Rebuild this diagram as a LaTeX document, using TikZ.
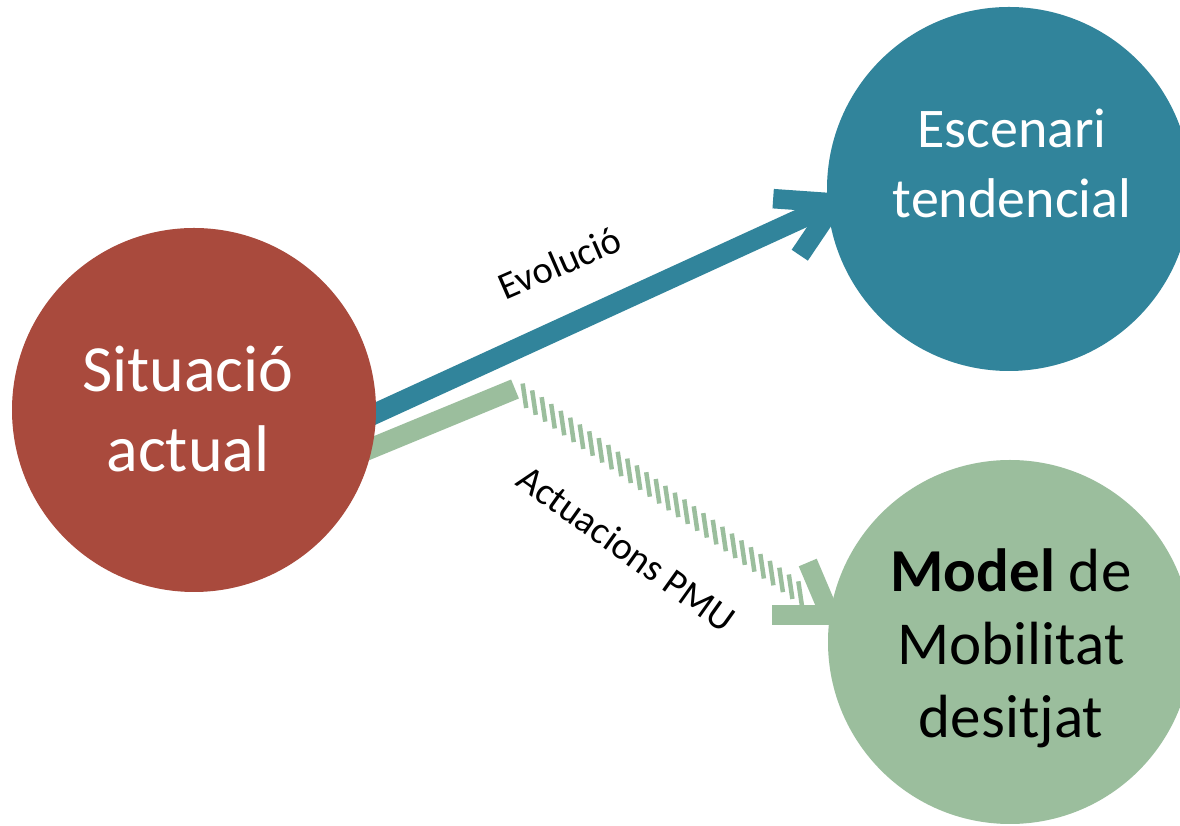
\documentclass[tikz,border=0pt]{standalone}
\usepackage{fontspec}
\setmainfont{Carlito}
\usetikzlibrary{backgrounds,decorations.markings,calc}
\definecolor{redc}{HTML}{A94A3D}
\definecolor{bluec}{HTML}{31849B}
\definecolor{greenc}{HTML}{9BBE9D}
\begin{document}
\begin{tikzpicture}[x=1pt,y=1pt,
  disc/.style={circle, minimum size=364pt, inner sep=0pt, draw=none},
  bigtxt/.style={align=center, inner sep=0pt},
  band/.style={line width=20.5pt, line cap=butt},
  barb/.style={line width=19.5pt, line cap=butt, shorten <=-6pt},
  edgelbl/.style={font=\fontsize{38.5}{46}\selectfont, inner sep=0pt, anchor=base},
  stripe/.style={line width=4.5pt, draw=greenc}
]
\useasboundingbox (0,0) rectangle (1180,826);
% circles
\node[disc, fill=redc] (sit) at (194,416) {};
\node[disc, fill=bluec] (esc) at (1009,637) {};
\node[disc, fill=greenc] (mod) at (1010,184) {};
% circle texts
\node[bigtxt, text=white, font=\fontsize{66}{80}\selectfont] (sitt) at (188,417) {Situació\\actual};
\node[bigtxt, text=white, font=\fontsize{56}{70}\selectfont] (esct) at (1012,663) {Escenari\\tendencial};
\node[bigtxt, text=black, font=\fontsize{61}{73}\selectfont] (modt) at (1011,178) {\textbf{Model} de\\Mobilitat\\desitjat};
% connector points
\coordinate (btip) at (835,623);
\coordinate (gP) at (515,437);
\coordinate (gtip) at (830,211);
\begin{scope}[on background layer]
\fill[white] (0,0) rectangle (1180,826);
\draw[band, bluec, shorten <=-25pt] (sit.-1) -- (btip);
\draw[barb, bluec] (btip) -- ++(176:62);
\draw[barb, bluec] (btip) -- ++(236:63);
\draw[band, greenc, shorten <=-25pt] (sit.-12) -- (gP);
\path[decorate, decoration={markings, mark=between positions 0.03 and 0.93 step 11.7pt with {\draw[stripe] (-8.6,8.9) -- (8.6,-8.9);}}] (gP) -- (gtip);
\draw[barb, greenc] (gtip) -- ++(180:58);
\draw[barb, greenc] (gtip) -- ++(113:57);
\end{scope}
% labels
\node[edgelbl, rotate=23.5] (evo) at (565,551) {Evolució};
\node[edgelbl, rotate=-35.5] (act) at (619,267) {Actuacions PMU};
\end{tikzpicture}
\end{document}
